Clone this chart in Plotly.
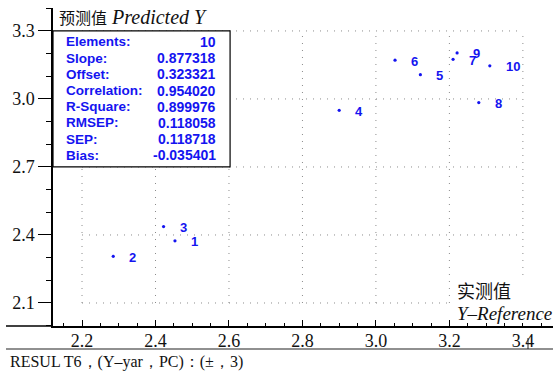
import plotly.graph_objects as go

# ---- data ----
sample_ids = ["1", "2", "3", "4", "5", "6", "7", "8", "9", "10"]
y_reference = [2.453, 2.285, 2.422, 2.900, 3.121, 3.052, 3.210, 3.280, 3.221, 3.310]
y_predicted = [2.374, 2.306, 2.437, 2.950, 3.107, 3.171, 3.175, 2.984, 3.203, 3.146]

x_ticks = [2.2, 2.4, 2.6, 2.8, 3.0, 3.2, 3.4]
x_tick_labels = ["2.2", "2.4", "2.6", "2.8", "3.0", "3.2", "3.4"]
y_ticks = [2.1, 2.4, 2.7, 3.0, 3.3]
y_tick_labels = ["2.1", "2.4", "2.7", "3.0", "3.3"]

stat_names = ["Elements:", "Slope:", "Offset:", "Correlation:", "R-Square:",
              "RMSEP:", "SEP:", "Bias:"]
stat_values = ["10", "0.877318", "0.323321", "0.954020", "0.899976",
               "0.118058", "0.118718", "-0.035401"]

# ---- layout constants ----
W, H = 553, 371
ML, MR, MT, MB = 53, 0, 8, 45
XR = [2.121, 3.482]
YR = [1.9985, 3.4012]
BLUE = "#1414f0"
SERIF = "Liberation Serif, Times New Roman, serif"
SANS = "Liberation Sans, Arial, sans-serif"

fig = go.Figure()
fig.add_trace(go.Scatter(
    x=y_reference, y=y_predicted, mode="markers",
    marker=dict(color=BLUE, size=3.2, line=dict(width=0)),
    hoverinfo="skip", showlegend=False))

shapes = []
# dotted grid restricted to tick extent
for xv in x_ticks:
    shapes.append(dict(type="line", xref="x", yref="y", x0=xv, x1=xv,
                       y0=y_ticks[0], y1=y_ticks[-1], layer="below",
                       line=dict(color="#8a8a8a", width=1, dash="1px,6px")))
for yv in y_ticks:
    shapes.append(dict(type="line", xref="x", yref="y", x0=x_ticks[0], x1=x_ticks[-1],
                       y0=yv, y1=yv, layer="below",
                       line=dict(color="#8a8a8a", width=1, dash="1px,6px")))
# stats box
shapes.append(dict(type="rect", xref="x", yref="y", x0=XR[0], x1=2.603, y0=2.7, y1=3.3,
                   layer="above", fillcolor="white", line=dict(color="black", width=1.2)))
# white block behind the x-axis title
shapes.append(dict(type="rect", xref="paper", yref="paper",
                   x0=(450 - ML) / 500, x1=1.0, y0=(326 - 323) / 318, y1=(326 - 278) / 318,
                   layer="above", fillcolor="white", line=dict(width=0)))
# x-axis line extension to the left
shapes.append(dict(type="line", xref="paper", yref="paper", x0=(6 - ML) / 500, x1=0,
                   y0=0, y1=0, line=dict(color="black", width=1.5)))
# lower rule under tick labels
yb = (326 - 349) / 318
shapes.append(dict(type="line", xref="paper", yref="paper", x0=(6 - ML) / 500, x1=1.0,
                   y0=yb, y1=yb, line=dict(color="#222", width=1.2)))
shapes.append(dict(type="line", xref="paper", yref="paper", x0=(528 - ML) / 500, x1=(528 - ML) / 500,
                   y0=yb, y1=(326 - 338) / 318, line=dict(color="#222", width=1)))

annotations = []
for sid, xv, yv in zip(sample_ids, y_reference, y_predicted):
    annotations.append(dict(x=xv, y=yv, xref="x", yref="y", text="<b>%s</b>" % sid,
                            showarrow=False, xanchor="left", yanchor="middle",
                            xshift=14, yshift=-1,
                            font=dict(family=SANS, size=13, color=BLUE)))

row_top = 3.2515
row_step = 0.0715
for i, (nm, val) in enumerate(zip(stat_names, stat_values)):
    yy = row_top - i * row_step
    annotations.append(dict(x=2.151, y=yy, xref="x", yref="y", text="<b>%s</b>" % nm,
                            showarrow=False, xanchor="left", yanchor="middle",
                            font=dict(family=SANS, size=13.5, color=BLUE)))
    annotations.append(dict(x=2.569, y=yy, xref="x", yref="y", text="<b>%s</b>" % val,
                            showarrow=False, xanchor="right", yanchor="middle",
                            font=dict(family=SANS, size=14, color=BLUE)))

# y-axis title
annotations.append(dict(
    x=(57 - ML) / 500, y=(326 - 17) / 318, xref="paper", yref="paper",
    text='<span style="font-family:Noto Sans CJK SC;font-size:16px">预测值</span> <i>Predicted Y</i>',
    showarrow=False, xanchor="left", yanchor="middle",
    font=dict(family=SERIF, size=20, color="#111")))
# x-axis title
annotations.append(dict(
    x=(455 - ML) / 500, y=(326 - 290) / 318, xref="paper", yref="paper",
    text="实测值", showarrow=False, xanchor="left", yanchor="middle",
    font=dict(family="Noto Sans CJK SC", size=18, color="#111")))
annotations.append(dict(
    x=(455 - ML) / 500, y=(326 - 313) / 318, xref="paper", yref="paper",
    text="<i>Y–Reference</i>", showarrow=False, xanchor="left", yanchor="middle",
    font=dict(family=SERIF, size=19, color="#111")))
# bottom caption
annotations.append(dict(
    x=(8 - ML) / 500, y=(326 - 362) / 318, xref="paper", yref="paper",
    text="RESUL T6，(Y–yar，PC)：(±，3)", showarrow=False, xanchor="left", yanchor="middle",
    font=dict(family=SERIF, size=16, color="#111")))

fig.update_layout(
    width=W, height=H,
    margin=dict(l=ML, r=MR, t=MT, b=MB, pad=0),
    plot_bgcolor="white", paper_bgcolor="white",
    shapes=shapes, annotations=annotations,
    xaxis=dict(range=XR, showgrid=False, zeroline=False,
               showline=True, linecolor="black", linewidth=1.5,
               tickmode="array", tickvals=x_ticks, ticktext=x_tick_labels,
               ticks="inside", ticklen=6, tickcolor="black", tickwidth=1,
               minor=dict(ticks="inside", ticklen=3, tick0=2.2, dtick=0.05,
                          tickcolor="black", showgrid=False),
               tickfont=dict(family=SERIF, size=18, color="#111"),
               ticklabelstandoff=-2),
    yaxis=dict(range=YR, showgrid=False, zeroline=False,
               showline=True, linecolor="black", linewidth=1.5,
               tickmode="array", tickvals=y_ticks, ticktext=y_tick_labels,
               ticks="outside", ticklen=13, tickcolor="black", tickwidth=1.2,
               minor=dict(ticks="outside", ticklen=5, tick0=2.1, dtick=0.1,
                          tickcolor="black", showgrid=False),
               tickfont=dict(family=SERIF, size=18, color="#111")),
)

fig.write_html("out.html", config={"displayModeBar": False},
               post_script="document.body.style.margin='0';document.body.style.overflow='hidden';")
